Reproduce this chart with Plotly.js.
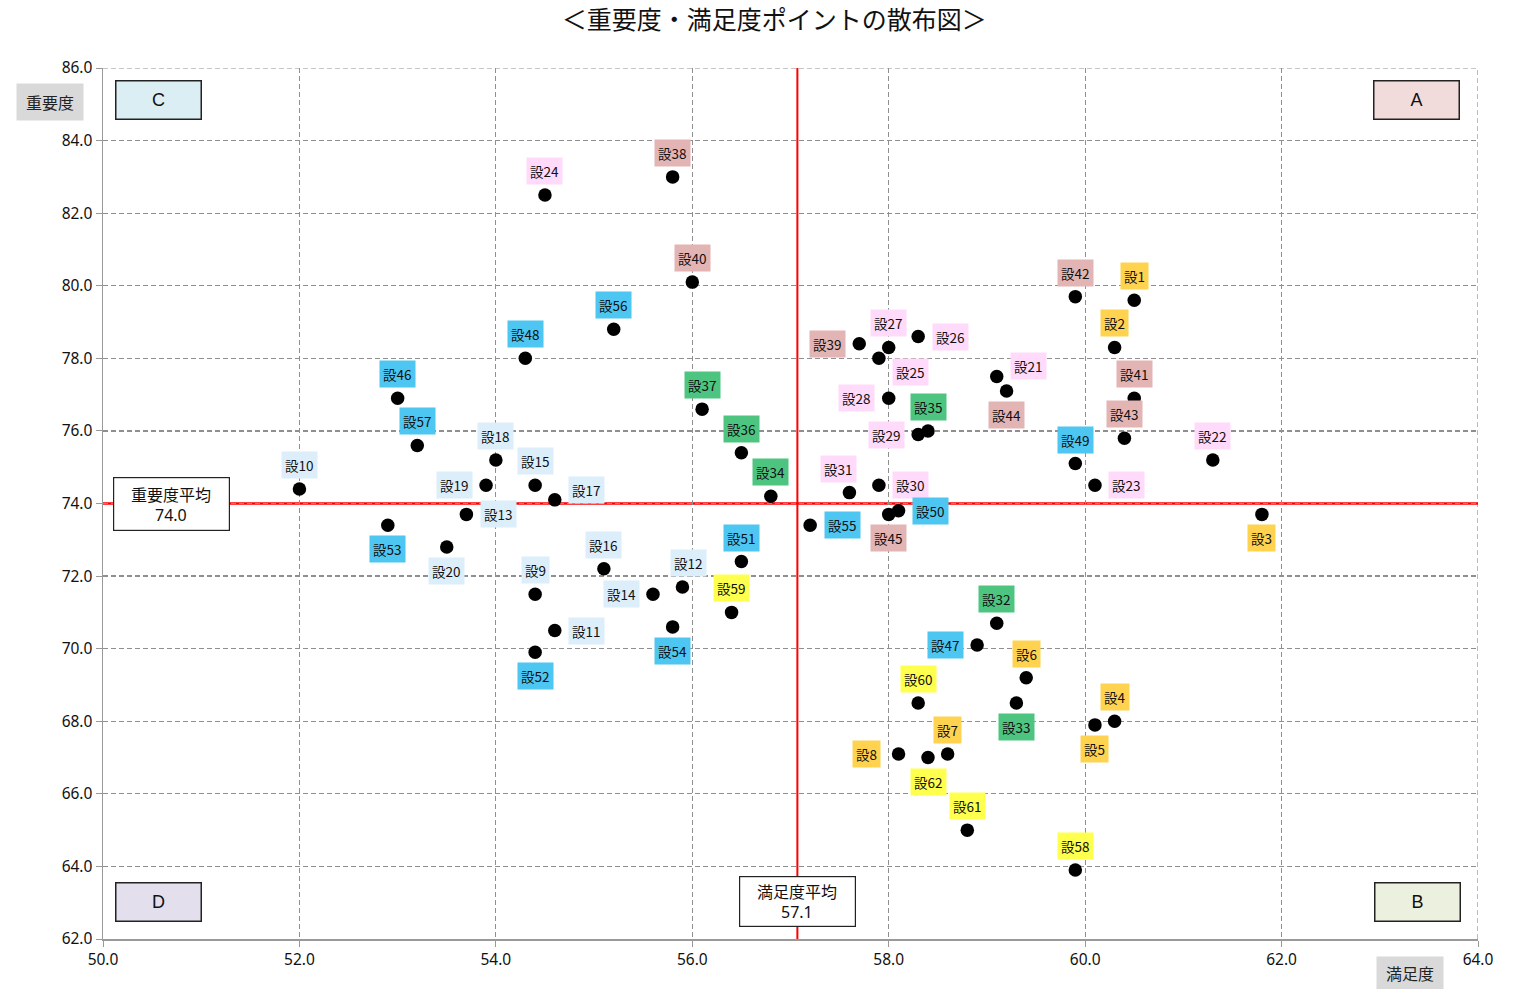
<!DOCTYPE html>
<html>
<head>
<meta charset="utf-8">
<script src="https://cdn.plot.ly/plotly-3.0.1.min.js"></script>
<style>html,body{margin:0;padding:0;background:#fff;}#chart{width:1533px;height:989px;}</style>
</head>
<body>
<div id="chart"></div>
<script>
// ---- data ----
const labels = ['設1','設2','設3','設4','設5','設6','設7','設8','設9','設10','設11','設12','設13','設14','設15','設16','設17','設18','設19','設20','設21','設22','設23','設24','設25','設26','設27','設28','設29','設30','設31','設32','設33','設34','設35','設36','設37','設38','設39','設40','設41','設42','設43','設44','設45','設46','設47','設48','設49','設50','設51','設52','設53','設54','設55','設56','設57','設58','設59','設60','設61','設62'];
const satisfaction = [60.5,60.3,61.8,60.3,60.1,59.4,58.6,58.1,54.4,52.0,54.6,55.9,53.7,55.6,54.4,55.1,54.6,54.0,53.9,53.5,59.1,61.3,60.1,54.5,57.9,58.3,58.0,58.0,58.3,57.9,57.6,59.1,59.3,56.8,58.4,56.5,56.1,55.8,57.7,56.0,60.5,59.9,60.4,59.2,58.0,53.0,58.9,54.3,59.9,58.1,56.5,54.4,52.9,55.8,57.2,55.2,53.2,59.9,56.4,58.3,58.8,58.4];
const importance = [79.6,78.3,73.7,68.0,67.9,69.2,67.1,67.1,71.5,74.4,70.5,71.7,73.7,71.5,74.5,72.2,74.1,75.2,74.5,72.8,77.5,75.2,74.5,82.5,78.0,78.6,78.3,76.9,75.9,74.5,74.3,70.7,68.5,74.2,76.0,75.4,76.6,83.0,78.4,80.1,76.9,79.7,75.8,77.1,73.7,76.9,70.1,78.0,75.1,73.8,72.4,69.9,73.4,70.6,73.4,78.8,75.6,63.9,71.0,68.5,65.0,67.0];
const groups = [0,0,0,0,0,0,0,0,1,1,1,1,1,1,1,1,1,1,1,1,2,2,2,2,2,2,2,2,2,2,2,3,3,3,3,3,3,4,4,4,4,4,4,4,4,5,5,5,5,5,5,5,5,5,5,5,5,6,6,6,6,6];
const satisfactionAvg = 57.07;
const importanceAvg = 74.0;
const xRange = [50, 64];
const yRange = [62, 86];
const xTickVals = [50,52,54,56,58,60,62,64];
const yTickVals = [62,64,66,68,70,72,74,76,78,80,82,84,86];

// ---- styling (kept separate from data) ----
const groupColors = ['#FFD34F','#DDEEFB','#FFDAFA','#4DC581','#E3B4B4','#4DC6F2','#FFFF4D'];
const labelSide = ['t','t','b','t','b','t','t','l','t','t','r','tr','r','l','t','t','ru','t','l','b','ru','t','r','t','rb','r','t','l','l','r','tl','t','b','t','t','t','t','t','l','t','t','t','t','b','b','t','l','t','t','r','t','b','b','b','r','t','t','t','t','t','t','b'];
const shifts = {t:[0,24], b:[0,-24], l:[-32,0], r:[32,0], rb:[32,-14], ru:[32,10], tl:[-11,24], tr:[6,24]};

const font = '"Noto Sans CJK JP", "Noto Sans", sans-serif';
const gridDash = '5px,3px';
const gridColor = '#8f8f8f';

const annotations = labels.map((t,i) => {
  const s = shifts[labelSide[i]];
  return {
    x: satisfaction[i], y: importance[i], xref:'x', yref:'y',
    text: t, showarrow:false, xshift:s[0], yshift:s[1],
    xanchor:'center', yanchor:'middle',
    bgcolor: groupColors[groups[i]], borderpad:3,
    font:{family:font, size:13.5, color:'#111'}
  };
});

// quadrant boxes
const quad = [
  {t:'C', x:0.0404, y:0.963, c:'#DAEEF3'},
  {t:'A', x:0.955, y:0.963, c:'#F2DCDB'},
  {t:'D', x:0.0404, y:0.042, c:'#E4DFEC'},
  {t:'B', x:0.956, y:0.042, c:'#EBF1DE'}
];
quad.forEach(q => annotations.push({
  xref:'paper', yref:'paper', x:q.x, y:q.y, xanchor:'center', yanchor:'middle',
  text:q.t, showarrow:false,
  width:82, height:35, bgcolor:q.c, bordercolor:'#222', borderwidth:1.5,
  font:{family:'"Liberation Sans", Arial, sans-serif', size:18, color:'#111'}
}));

// average boxes: frame + two separate text lines
function avgBox(xref, yref, x, y, title, value, h) {
  annotations.push({
    xref, yref, x, y, xanchor:'center', yanchor:'middle',
    text:'\u00a0', showarrow:false,
    width:113, height:h, bgcolor:'#fff', bordercolor:'#222', borderwidth:1.2,
    font:{family:font, size:10, color:'#111'}
  });
  annotations.push({
    xref, yref, x, y, xanchor:'center', yanchor:'middle', yshift:10,
    text:title, showarrow:false, font:{family:font, size:16, color:'#111'}
  });
  annotations.push({
    xref, yref, x, y, xanchor:'center', yanchor:'middle', yshift:-11,
    text:value.toFixed(1), showarrow:false, font:{family:'"Noto Sans", sans-serif', size:16, color:'#111'}
  });
}
avgBox('paper', 'y', 0.0495, importanceAvg, '重要度平均', importanceAvg, 50);
avgBox('x', 'paper', satisfactionAvg, 0.0436, '満足度平均', satisfactionAvg, 47);

// axis titles as grey boxes
annotations.push({
  xref:'paper', yref:'paper', x:-0.0385, y:0.961, xanchor:'center', yanchor:'middle',
  text:'重要度', showarrow:false,
  width:64, height:34, bgcolor:'#D9D9D9', font:{family:font, size:16, color:'#222'}
});
annotations.push({
  xref:'paper', yref:'paper', x:0.9505, y:-0.039, xanchor:'center', yanchor:'middle',
  text:'満足度', showarrow:false,
  width:64, height:30, bgcolor:'#D9D9D9', font:{family:font, size:16, color:'#222'}
});

const trace = {
  x: satisfaction, y: importance, mode:'markers', type:'scatter',
  marker:{size:13.5, color:'#000'}, hoverinfo:'text', text:labels
};

const axisBase = {
  showgrid:true, gridcolor:gridColor, griddash:gridDash, gridwidth:1.2,
  showline:true, linecolor:'#999', linewidth:1.5, ticks:'outside', ticklen:6, tickcolor:'#999',
  zeroline:false, tickfont:{family:'"Noto Sans", sans-serif', size:15.5, color:'#111'}
};

const layout = {
  width:1533, height:989,
  margin:{l:103, r:55, t:68, b:50},
  paper_bgcolor:'#fff', plot_bgcolor:'#fff',
  showlegend:false,
  title:{text:'＜重要度・満足度ポイントの散布図＞', x:0.505, xanchor:'center', y:0.98, yanchor:'middle',
         font:{family:font, size:25, color:'#111'}},
  xaxis:Object.assign({range:xRange, tickvals:xTickVals, ticktext:xTickVals.map(v=>v.toFixed(1))}, axisBase),
  yaxis:Object.assign({range:yRange, tickvals:yTickVals, ticktext:yTickVals.map(v=>v.toFixed(1))}, axisBase),
  shapes:[
    // edge gridlines (top and right) which plotly omits
    {type:'line', xref:'x', yref:'y', x0:xRange[0], x1:xRange[1], y0:yRange[1], y1:yRange[1], line:{color:gridColor, width:1.2, dash:gridDash}, layer:'below'},
    {type:'line', xref:'x', yref:'y', x0:xRange[1], x1:xRange[1], y0:yRange[0], y1:yRange[1], line:{color:gridColor, width:1.2, dash:gridDash}, layer:'below'},
    {type:'line', xref:'x', yref:'y', x0:satisfactionAvg, x1:satisfactionAvg, y0:yRange[0], y1:yRange[1], line:{color:'#FF0000', width:2}, layer:'below'},
    {type:'line', xref:'x', yref:'y', x0:xRange[0], x1:xRange[1], y0:importanceAvg, y1:importanceAvg, line:{color:'#FF0000', width:2.5}, layer:'below'}
  ],
  annotations: annotations
};

Plotly.newPlot('chart', [trace], layout, {displayModeBar:false, staticPlot:true});
</script>
</body>
</html>
